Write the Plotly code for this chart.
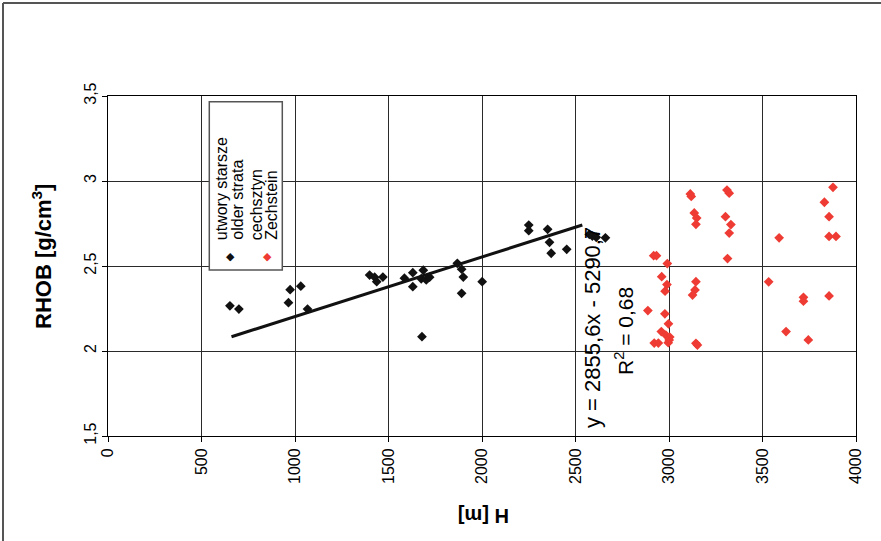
import plotly.graph_objects as go

# ---- data ----
h_older = [652, 700, 974, 965, 1031, 1067, 1399, 1426, 1437, 1470, 1585, 1630, 1630,
           1686, 1675, 1702, 1720, 1679, 1868, 1891, 1900, 1891, 2001, 2250, 2250,
           2351, 2361, 2370, 2453, 2574, 2590, 2611, 2660]
rhob_older = [2.266, 2.247, 2.361, 2.284, 2.381, 2.247, 2.447, 2.434, 2.408, 2.435,
              2.428, 2.461, 2.378, 2.475, 2.425, 2.418, 2.434, 2.084, 2.516, 2.481,
              2.435, 2.339, 2.408, 2.741, 2.708, 2.716, 2.639, 2.575, 2.598, 2.686,
              2.676, 2.669, 2.666]

h_zech = [2918, 2933, 2991, 2961, 2989, 2979, 2887, 2978, 2997, 2959, 2983, 3004, 3001,
          2996, 2921, 2943, 3144, 3152, 3114, 3119, 3135, 3148, 3144, 3144, 3139, 3126,
          3310, 3322, 3302, 3331, 3322, 3313, 3877, 3831, 3856, 3856, 3893, 3589, 3533,
          3719, 3719, 3856, 3626, 3745]
rhob_zech = [2.561, 2.561, 2.514, 2.437, 2.391, 2.352, 2.238, 2.219, 2.160, 2.114, 2.094,
             2.082, 2.065, 2.049, 2.047, 2.047, 2.045, 2.035, 2.924, 2.909, 2.812, 2.782,
             2.745, 2.408, 2.359, 2.329, 2.947, 2.928, 2.790, 2.744, 2.694, 2.544, 2.963,
             2.875, 2.790, 2.674, 2.674, 2.666, 2.407, 2.316, 2.293, 2.324, 2.114, 2.065]

x_tick_vals = [0, 500, 1000, 1500, 2000, 2500, 3000, 3500, 4000]
x_tick_labels = ["0", "500", "1000", "1500", "2000", "2500", "3000", "3500", "4000"]
y_tick_vals = [1.5, 2.0, 2.5, 3.0, 3.5]
y_tick_labels = ["1,5", "2", "2,5", "3", "3,5"]

legend_older = ["utwory starsze", "older strata"]
legend_zech = ["cechsztyn", "Zechstein"]

trend_slope = 2855.6
trend_intercept = -5290.7
equation_text = "y = 2855,6x - 5290,7"
r2_text = "R<sup>2</sup> = 0,68"

# ---- layout geometry ----
W, H = 881, 541
ML, MR, MT, MB = 108, 25, 96, 105
PW, PH = W - ML - MR, H - MT - MB


def px_x(p):
    return (p - ML) / PW


def px_y(p):
    return (MT + PH - p) / PH


FONT = "Liberation Sans, Arial, sans-serif"
RED = "#ee3b33"

rh_line = [min(rhob_older), max(rhob_older)]
h_line = [trend_slope * r + trend_intercept for r in rh_line]

fig = go.Figure()
fig.add_trace(go.Scatter(x=h_older, y=rhob_older, mode="markers",
                         marker=dict(symbol="diamond", size=7.5, color="#111111"),
                         showlegend=False))
fig.add_trace(go.Scatter(x=h_zech, y=rhob_zech, mode="markers",
                         marker=dict(symbol="diamond", size=7.5, color=RED),
                         showlegend=False))
fig.add_trace(go.Scatter(x=h_line, y=rh_line, mode="lines",
                         line=dict(color="#111111", width=3), showlegend=False))

axis_common = dict(showline=True, linecolor="#000000", linewidth=1, mirror=True,
                   ticks="outside", ticklen=5, tickcolor="#000000",
                   showgrid=True, gridcolor="#2a2a2a", gridwidth=1, zeroline=False,
                   tickfont=dict(family=FONT, size=16, color="#000000"))

fig.update_xaxes(range=[0, 4000], tickvals=x_tick_vals, ticktext=x_tick_labels,
                 tickangle=-90, **axis_common)
fig.update_yaxes(range=[1.5, 3.5], tickvals=y_tick_vals, ticktext=y_tick_labels,
                 tickangle=-90, **axis_common)

annotations = []
# axis titles
annotations.append(dict(text="<b>RHOB [g/cm<sup>3</sup>]</b>", xref="paper", yref="paper",
                        x=px_x(42), y=px_y(257), xanchor="center", yanchor="middle",
                        textangle=-90, showarrow=False,
                        font=dict(family=FONT, size=22, color="#000000")))
annotations.append(dict(text="<b>H [m]</b>", xref="paper", yref="paper",
                        x=px_x(484), y=px_y(516), xanchor="center", yanchor="middle",
                        textangle=180, showarrow=False,
                        font=dict(family=FONT, size=20, color="#000000")))
# trendline labels
annotations.append(dict(text=equation_text, xref="paper", yref="paper",
                        x=px_x(592), y=px_y(328), xanchor="center", yanchor="middle",
                        textangle=-90, showarrow=False,
                        font=dict(family=FONT, size=22, color="#000000")))
annotations.append(dict(text=r2_text, xref="paper", yref="paper",
                        x=px_x(624), y=px_y(331), xanchor="center", yanchor="middle",
                        textangle=-90, showarrow=False,
                        font=dict(family=FONT, size=21, color="#000000")))
# legend texts
for txt, cx in zip(legend_older + legend_zech, [221.7, 236.7, 256.7, 271.3]):
    annotations.append(dict(text=txt, xref="paper", yref="paper",
                            x=px_x(cx), y=px_y(242), xanchor="center", yanchor="bottom",
                            textangle=-90, showarrow=False,
                            font=dict(family=FONT, size=16, color="#000000")))
# legend symbols
for col, cx in zip(["#111111", RED], [230, 267.3]):
    annotations.append(dict(text="\u25c6", xref="paper", yref="paper",
                            x=px_x(cx), y=px_y(256.7), xanchor="center", yanchor="middle",
                            showarrow=False,
                            font=dict(family="DejaVu Sans", size=11, color=col)))

shapes = [
    # legend box
    dict(type="rect", xref="paper", yref="paper",
         x0=px_x(209.3), x1=px_x(282.3), y0=px_y(270), y1=px_y(101.7),
         line=dict(color="#555555", width=1.5), fillcolor="white", layer="above"),
    # outer chart frame (top and left edges)
    dict(type="line", xref="paper", yref="paper",
         x0=px_x(3), x1=px_x(900), y0=px_y(3), y1=px_y(3),
         line=dict(color="#555555", width=2)),
    dict(type="line", xref="paper", yref="paper",
         x0=px_x(3), x1=px_x(3), y0=px_y(3), y1=px_y(560),
         line=dict(color="#555555", width=2)),
]

fig.update_layout(width=W, height=H, margin=dict(l=ML, r=MR, t=MT, b=MB),
                  paper_bgcolor="white", plot_bgcolor="white",
                  annotations=annotations, shapes=shapes, showlegend=False,
                  font=dict(family=FONT, color="#000000"))

fig.write_html("out.html", config={"displayModeBar": False},
               post_script="document.body.style.margin='0';"
                           "document.body.style.overflow='hidden';")
